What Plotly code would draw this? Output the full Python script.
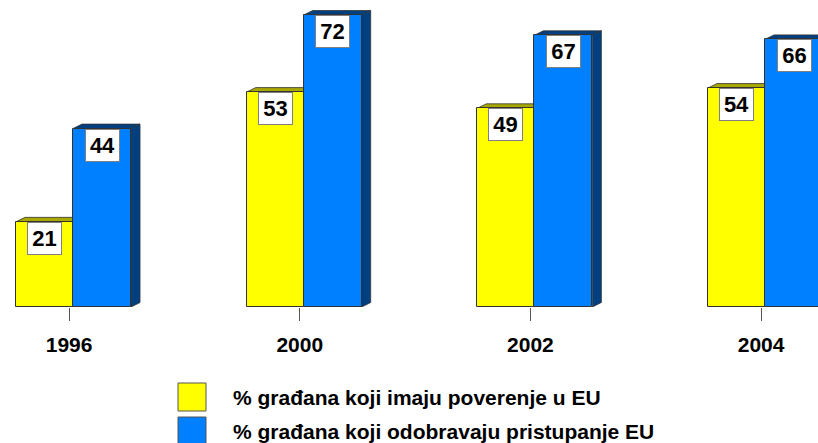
import plotly.graph_objects as go

# ---- data ----
years = ["1996", "2000", "2002", "2004"]
trust = [21, 53, 49, 54]          # % građana koji imaju poverenje u EU
approve = [44, 72, 67, 66]        # % građana koji odobravaju pristupanje EU
series_names = ["% građana koji imaju poverenje u EU",
                "% građana koji odobravaju pristupanje EU"]

# ---- style ----
W, H = 818, 443
PLOT_TOP, PLOT_BOTTOM = 0, 307
YMAX = 75.7
YELLOW, YELLOW_TOP = "#FFFF00", "#A8A800"
BLUE, BLUE_DARK = "#0080FF", "#004080"
EDGE = "#333333"
FONT = "Arial, 'Liberation Sans', sans-serif"

x = list(range(len(years)))
w_y = 0.247     # yellow bar width (category units)
w_b = 0.2515    # blue bar width
dxu = 0.039     # 3D depth offset (x units)
dyu = 1.1       # 3D depth offset (y units)

fig = go.Figure()
fig.add_trace(go.Bar(x=x, y=trust, width=w_y, offset=-w_y, name=series_names[0],
                     marker=dict(color=YELLOW, line=dict(color=EDGE, width=1)),
                     showlegend=False, hoverinfo="skip"))
fig.add_trace(go.Bar(x=x, y=approve, width=w_b, offset=0, name=series_names[1],
                     marker=dict(color=BLUE, line=dict(color=EDGE, width=1)),
                     showlegend=False, hoverinfo="skip"))

shapes = []
def poly(pts, fill):
    path = "M " + " L ".join(f"{px},{py}" for px, py in pts) + " Z"
    return dict(type="path", path=path, xref="x", yref="y", fillcolor=fill,
                line=dict(color=EDGE, width=0.8), layer="below")

for i, (t, a) in enumerate(zip(trust, approve)):
    # yellow top face
    x0, x1 = i - w_y, i
    shapes.append(poly([(x0, t), (x0 + dxu, t + dyu), (x1 + dxu, t + dyu), (x1, t)], YELLOW_TOP))
    # blue top + side faces
    x0, x1 = i, i + w_b
    shapes.append(poly([(x0, a), (x0 + dxu, a + dyu), (x1 + dxu, a + dyu), (x1, a)], BLUE_DARK))
    shapes.append(poly([(x1, 0), (x1 + dxu, dyu), (x1 + dxu, a + dyu), (x1, a)], BLUE_DARK))

annotations = []
def value_box(xc, v):
    return dict(x=xc, y=v, xref="x", yref="y", text=f"<b>{v}</b>", showarrow=False,
                yanchor="top", xanchor="center", font=dict(family=FONT, size=22, color="black"),
                bgcolor="white", bordercolor="#808080", borderwidth=1, borderpad=1,
                width=31, height=29)

for i, (t, a) in enumerate(zip(trust, approve)):
    annotations.append(value_box(i - w_y / 2, t))
    annotations.append(value_box(i + w_b / 2, a))

# ---- custom legend (pixel positions -> paper coords) ----
ph = PLOT_BOTTOM - PLOT_TOP
def py2paper(py):
    return (PLOT_BOTTOM - py) / ph
def px2paper(px):
    return px / W

leg_colors = [YELLOW, BLUE]
for k, (name, col) in enumerate(zip(series_names, leg_colors)):
    top = 383 + 34 * k
    shapes.append(dict(type="rect", xref="paper", yref="paper",
                       x0=px2paper(178), x1=px2paper(206),
                       y0=py2paper(top + 28), y1=py2paper(top),
                       fillcolor=col, line=dict(color="#555555", width=1)))
    annotations.append(dict(x=px2paper(231), y=py2paper(top + 14), xref="paper", yref="paper",
                            text=f"<b>{name}</b>", showarrow=False, xanchor="left",
                            yanchor="middle", font=dict(family=FONT, size=21, color="black")))

fig.update_layout(
    width=W, height=H,
    margin=dict(l=0, r=0, t=PLOT_TOP, b=H - PLOT_BOTTOM, pad=0),
    paper_bgcolor="white", plot_bgcolor="white",
    barmode="overlay", bargap=0,
    shapes=shapes, annotations=annotations,
    xaxis=dict(range=[-0.3165, 3.2297], tickmode="array",
               tickvals=[i - 0.017 for i in x], ticktext=[f"<b>{y}</b>" for y in years],
               ticks="outside", ticklen=13, tickcolor="#555555", tickwidth=1,
               ticklabelstandoff=6,
               showgrid=False, zeroline=False, showline=False,
               tickfont=dict(family=FONT, size=21, color="black"), fixedrange=True),
    yaxis=dict(range=[0, YMAX], visible=False, showgrid=False, zeroline=False,
               fixedrange=True),
    showlegend=False,
)

fig.write_html("out.html", config={"displayModeBar": False},
               post_script="document.body.style.margin='0';document.body.style.overflow='hidden';")
